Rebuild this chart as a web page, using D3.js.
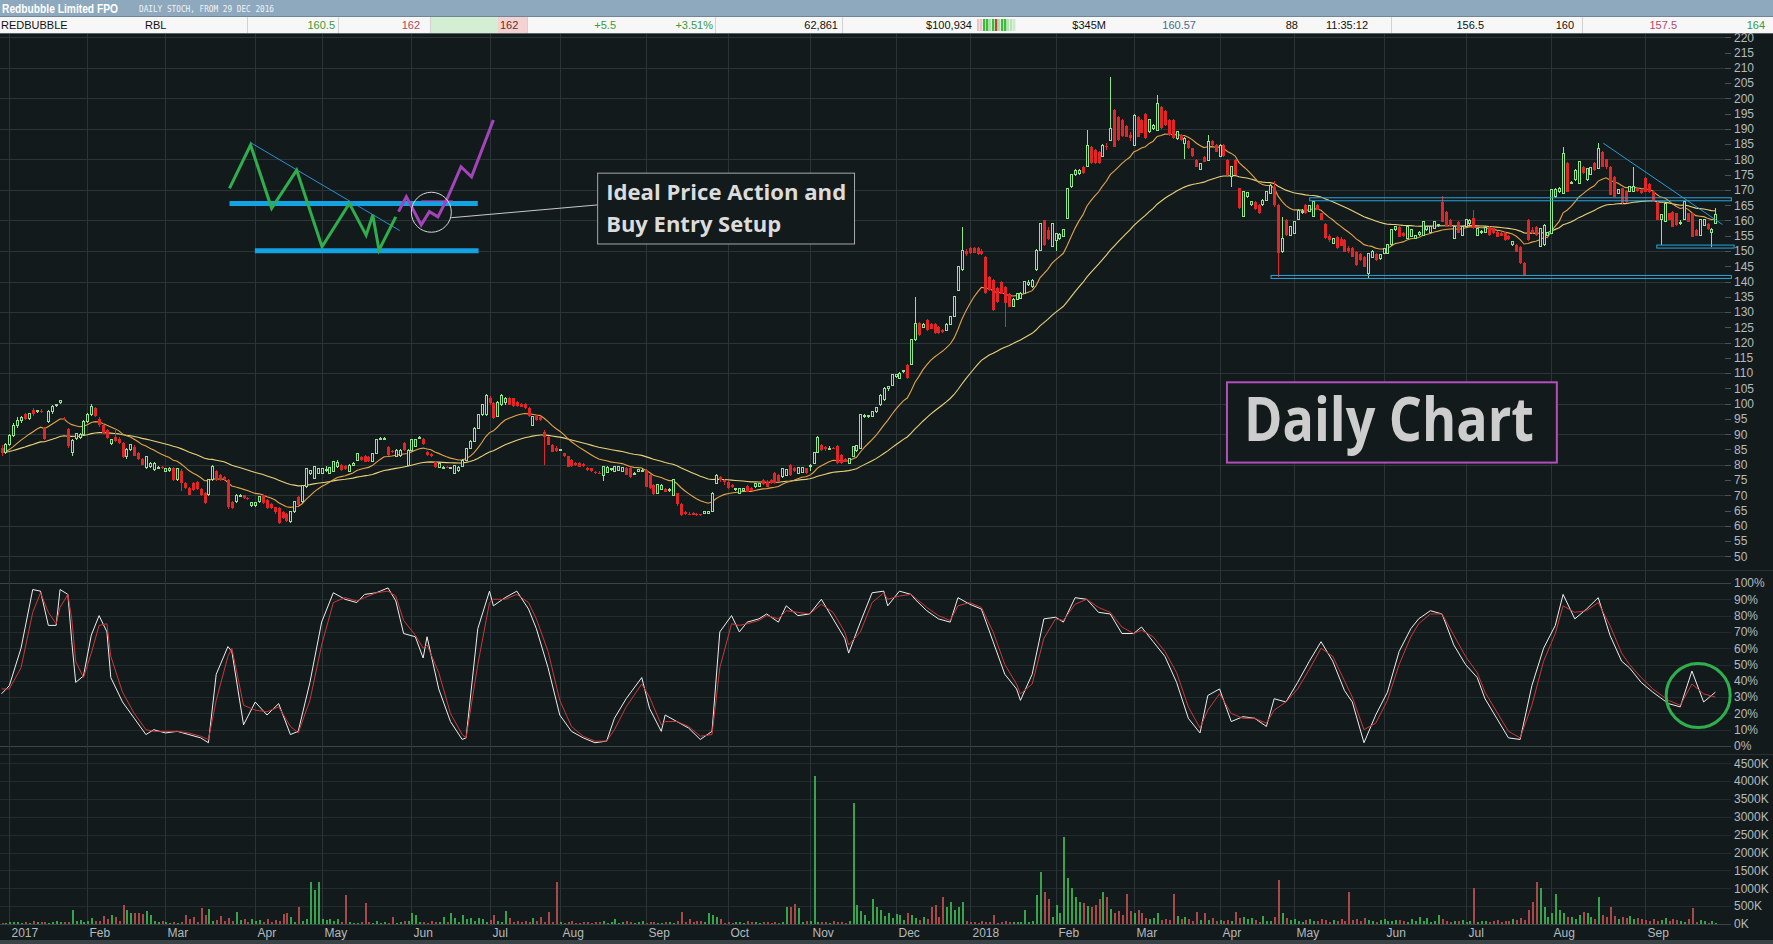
<!DOCTYPE html>
<html>
<head>
<meta charset="utf-8">
<script src="https://cdn.jsdelivr.net/npm/d3@7/dist/d3.min.js"></script>
<style>
body{margin:0;background:#131a1b;overflow:hidden}
text{font-family:"Liberation Sans",Arial,sans-serif}
</style>
</head>
<body>
<script>
// sessions on the time axis: 2 lead-in days (29-30 Dec 2016) then one entry per month
let leadSessions = 2
let monthLabels = ["2017","Feb","Mar","Apr","May","Jun","Jul","Aug","Sep","Oct","Nov","Dec",
                   "2018","Feb","Mar","Apr","May","Jun","Jul","Aug","Sep"]
let monthSessions = [20,20,23,17,23,20,18,22,21,21,22,19,22,20,22,19,23,21,22,24,19]

// daily candles [open, high, low, close]
let candles = [
[85.5,86.5,83,84],[84,87,83.5,86.5],[86.5,90,86,89.5],[89.5,93.5,89,92.8],[92.8,95.5,92,94.5],[94.5,96,93.5,95.5],[96.5,97,94.5,95],[95,97,94.5,96.8],[97.8,98.5,96,96.5],[97.5,98,97,97.6],
[97.6,98.2,96.8,97.2],[92,92.5,88,88.5],[94,97.8,93.5,97.4],[97.4,99.5,96.5,99],[99.5,100,99,99.7],[100.3,101.2,99.8,101],[95,95.5,94.5,94.9],[91.6,92,85.5,86],[84,88.5,83,88],[88.6,90.5,88,90.3],
[89,90.5,88.5,90],[90,94.5,89.5,94.1],[94,97,93.5,96.5],[96.5,100,96,99],[98.5,99,95.5,96],[94.9,95.5,92.5,93],[93,93.5,90,90.3],[91.4,91.8,88.3,88.6],[86.8,88.5,86.5,88.3],[89.2,92,87.5,87.8],
[88.5,89,86.8,87],[87,87.5,82.3,82.6],[82.6,85.5,82,85],[85,86.8,84.5,86.5],[85.9,86.3,82.8,83],[84,84.3,81.5,82],[82,82.3,79.8,80],[79,82.8,78.5,82.6],[79.5,81,79,80.5],[78.3,80.8,78,80.5],
[79.1,79.5,78.8,79.1],[79.1,79.5,78.5,79],[77.8,79,77.5,78.8],[78,79.2,77.5,78.8],[78.8,79.2,74.8,75],[75,79,74.8,78.8],[78,78.5,71.5,74],[74,74.5,72,72.3],[72.3,72.8,70,70.1],[73.9,74.2,71.5,71.7],
[74.4,74.8,71.8,72],[72,72.3,69.8,70],[70.6,71,67.2,67.4],[70.1,75.2,69.8,75],[75,80,74.8,79.4],[78,78.3,74.8,75],[76.6,77,74.8,75],[76,76.3,74.8,75.2],[75,75.3,65.5,66],[67.9,68.2,65.5,65.7],
[68,70.5,67.5,70],[70,70.3,69.6,70],[70,70.2,68.8,69],[69,69.3,68.5,68.8],[66.5,67.8,66.3,67.6],[66.8,67.8,66.3,67.5],[67.9,69.8,67.5,69.5],[70,70.3,67.2,67.4],[68.4,68.7,65.5,65.7],[67,67.3,65.5,65.8],
[66,66.3,64,64.5],[65.7,66,60.6,61],[64.6,64.8,62.2,62.4],[64,64.2,61.2,61.4],[61.4,64.8,60.8,64.6],[64.6,68,64.3,67.9],[69.5,69.8,66.6,66.8],[67.9,73.5,67.6,73.3],[72.8,79,72.5,78.8],[77,78.2,76.6,78],
[75.5,79.6,75.2,79.4],[77.2,79,77,78.8],[77.2,79,76.8,78.8],[78,79.5,77.5,78.5],[77,79.2,76.8,79],[77.7,81.2,77.5,81],[79.5,81.5,79,80.8],[79.9,80.2,78,78.3],[79.5,79.8,78.2,78.5],[77.7,80.2,77.5,79.9],
[79.9,81,79.5,80.5],[81.5,83.9,81.2,83.7],[82.6,82.9,81.3,81.5],[82.9,83.2,80.8,81],[82.5,82.8,81,81.2],[81.2,84,81,83.7],[83.7,88.5,83.5,88.1],[88.6,89.2,88,88.6],[88.6,89,88.2,88.6],[85.9,86.2,83,83.2],
[84.5,84.8,84,84.3],[82.6,85,82.4,84.8],[83,85,82.5,84.6],[87,87.3,84.6,84.8],[79.9,85,79.6,84.8],[84.8,88.3,84.6,88.1],[86,88.5,85.8,88.3],[89,89.5,88.6,89],[88.5,88.8,86.5,86.8],[84.3,84.6,83,83.2],
[83.5,84,82.5,83],[81,81.3,79,79.1],[79.1,81,78.8,80.5],[79.1,79.5,78.8,79.1],[79.2,79.5,78.8,79],[79,79.3,78.6,79],[77.2,80,77,79.9],[78,79.5,77.5,79.2],[79.5,81.8,79.2,81.5],[81.5,85.6,81.2,85.4],
[85.4,88,85,87.6],[87.6,92.2,87.4,91.9],[92,96.5,91.8,96.3],[96.3,99.9,96,99.6],[96.5,103.3,96,102.8],[102,102.5,99.5,100.1],[100.1,100.5,95,95.2],[95.7,100.8,95.5,100.5],[99.6,103,99.3,102.8],[100.5,102.2,99.5,101.8],
[101.8,102.2,99.4,99.6],[101.8,102,99,99.2],[100.5,100.8,99,99.3],[100,100.3,98.8,99],[100,100.3,98.3,98.5],[98.5,98.8,95.5,95.8],[93,95.9,92.8,95.7],[96,96.3,94.4,94.6],[95.5,95.8,94.4,94.6],[90.8,91.3,80,89.2],
[89.2,89.5,86.3,86.5],[86.5,86.8,84.1,84.3],[85.5,86,84.3,84.5],[84.8,85.2,84.5,84.9],[83.7,84,82.5,82.8],[82.8,83,79.2,79.4],[81.5,81.8,79.2,79.6],[80.5,80.8,79.5,80],[80.5,80.8,79.2,79.4],[80.2,80.5,79.2,79.5],
[78.8,79.2,78,78.3],[78.8,79,77.5,77.8],[77.5,78,77,77.2],[77.4,78,77,77.3],[76.6,79.5,74.8,79.4],[77.5,79.6,77.3,79.2],[78.5,79,78,78.6],[77.7,79.5,77.5,79.4],[78,79.6,77.8,79.3],[77.8,79.2,77.5,79],
[79,79.3,76.5,76.6],[79,79.2,75.8,76],[77,77.5,76.5,77.2],[77.7,78.6,77.5,78.5],[78,78.5,77.5,78.2],[78.3,78.5,72.6,72.8],[76.6,76.8,72,72.3],[73.5,73.8,70,70.3],[70.6,73.5,70.4,73.4],[72,73.6,71.8,73.2],
[72,72.3,71,71.2],[71.5,72.3,71.2,71.8],[70,75.2,69.8,75],[70.6,70.8,66.5,67],[67,67.3,63.3,63.5],[64.6,64.8,63.5,64],[64,64.5,63.5,63.8],[64.2,64.5,63.5,63.6],[64,64.2,63.3,63.5],[63.8,64,63.3,63.5],
[64,64.7,63.8,64.6],[64,64.8,63.8,64.6],[64.6,71,64.4,70.5],[73.9,76.9,73.7,76.6],[76,76.3,74.5,75],[75,75.3,73.5,74.2],[74.5,74.8,72.1,72.3],[73.5,73.8,72.3,72.6],[72,72.4,71.5,72.1],[70.6,72.5,70.4,72.3],
[71.5,72.5,71,72.2],[73,73.3,71,71.2],[72.5,72.8,71.3,71.5],[72.8,73.9,72.5,73.7],[73,74,72.8,73.8],[75,75.3,73.5,73.8],[74.5,75,72.6,72.8],[75,75.2,73.6,74],[77.2,77.5,73.8,74],[76.5,76.8,74.5,74.8],
[76,79,75.8,78.8],[76.5,78.5,76.2,78.3],[79.9,80.2,76.4,76.6],[79,79.3,77.5,77.8],[77,79.2,76.8,79],[77.5,79.3,77.3,79],[78.8,79,77,77.2],[79.5,80.2,78,79.9],[80.5,84.2,80.3,84],[84,89.3,83.8,88.9],
[86.5,86.8,84.6,84.8],[85.8,86,84.5,85],[85.2,86,85,85.4],[85.4,85.8,85,85.3],[86,86.3,80.3,80.5],[83.2,83.5,80.3,80.5],[82,82.3,80.8,81],[80.5,82.2,80.3,82],[82.6,86.2,82.4,86],[84.5,86.5,84.2,86.2],
[85.4,96.5,85.2,96.3],[95.7,96.5,95.3,96],[95.7,96.2,95.3,96],[95.7,97.6,95.5,97.4],[97.4,99,97,98.8],[99.6,103,99.3,102.8],[101.2,105.3,101,105],[105,105.8,104.3,105.5],[106.1,109.6,105.8,109.4],[109,109.8,108.5,109.5],
[108.3,110.3,108,110],[110.5,111,110,110.8],[112.7,113,108,108.3],[112.7,121.2,112.5,120.9],[120.9,135,120.5,126.3],[126.3,126.6,122.3,122.5],[125,126.5,124.8,126],[127.4,127.7,123.9,124.1],[126,126.3,124.3,124.5],[126,126.3,122.8,123],
[125.2,125.5,122.8,123],[124,124.5,123,123.5],[124,126.3,123.8,126],[126,128.8,125.8,128.5],[128.5,135.3,128.3,135],[137.2,145.2,137,144.9],[143.8,158,143.5,150.3],[150,150.5,148.5,149],[150.9,151.2,149,149.2],[151,151.3,149.2,149.5],
[151,151.3,148.8,149],[150,150.5,148.8,149],[148.1,148.4,135.9,136.1],[141.5,141.8,137,137.2],[140.5,140.8,130.5,130.7],[138,138.3,133,133.3],[140,140.3,135.8,136],[138.3,138.6,125.2,132.9],[136,136.3,131.6,131.8],[131.8,134.5,131.5,134.2],
[134,136.4,133.8,136.1],[134.5,136.5,134.2,136.2],[136.1,140.3,135.9,140],[139,140.5,138.5,139.8],[138.3,140.8,138,140.5],[143.8,150.6,143.6,150.3],[150.3,159.3,150,159],[160,160.3,151.8,152],[157,158,153.5,154],[151.4,159.3,151.2,159],
[153.6,156,150,155.8],[154,156,153.5,155.5],[154.7,157.2,154.5,156.9],[160.7,170.8,160.5,170.5],[171,175,170.5,174.9],[174.9,176.8,174.6,176.5],[175.5,177,175,176.5],[177.6,177.8,175.3,175.5],[177.6,189.6,177.4,184.7],[184.2,184.5,178.5,178.7],
[183,183.3,178.5,178.8],[182.5,182.8,178.5,178.7],[180.9,185,180.7,184.7],[184.5,185.5,183,184],[186.3,207,186,190.2],[196.2,196.5,184,184.2],[194,194.3,186,186.3],[193,193.3,187.4,187.6],[191,191.3,187.2,187.4],[188,189,186,187],
[184.7,194.8,184.5,194.5],[194,194.3,187.2,187.4],[193,193.3,188.5,188.7],[195,195.3,186.7,186.9],[189,193.3,188.8,193],[190,191.5,189.5,191],[189.6,201,189.4,198.3],[197.3,197.6,190,190.2],[196,196.3,191,191.3],[193,193.3,187.8,188],
[192.9,193.2,186.7,186.9],[187,189.2,186.5,189],[188,188.3,186,186.2],[185.3,187.2,180,186.9],[186,186.3,183.4,183.6],[183.6,183.8,180.8,181],[179.8,180,177.4,177.6],[176.7,178.9,176.5,178.7],[180.9,181.2,179,179.2],[179.8,188,179.6,185.8],
[186,186.3,184.5,184.7],[184.7,185,182.3,182.5],[181,184.9,180.8,184.7],[184.7,185,180.8,181],[179.8,180,174.7,174.9],[174.3,177.8,171,177.6],[179.8,180,174.8,175],[170.5,170.8,163.8,164],[161.3,169.6,161,169.4],[167.8,169.3,167.5,169.1],
[165.1,166.4,164.8,166.2],[166.2,166.5,163.5,163.8],[165,165.3,162.1,162.3],[165.1,166.9,164.8,166.7],[166.7,169.6,166.5,169.4],[168.9,171.8,168.7,171.6],[171,173,164.5,165],[165,165.3,141.6,149.2],[149.8,161,149.5,154.2],[160.2,160.5,155,155.2],
[155,158.2,154.8,158],[155.8,159.8,155.5,159.6],[160.2,163.6,160,163.4],[162.5,163.6,162,163],[165,165.3,162.1,162.3],[163,165.2,162.8,165],[161.3,166.4,161,166.2],[165,165.3,163.3,163.5],[162.3,162.6,160,160.2],[159,159.3,154,154.2],
[155,155.5,153,153.5],[152.5,154.4,152.3,154.2],[154.7,155,150.7,150.9],[154,154.5,151.5,151.8],[153.6,153.9,149.6,149.8],[151,151.5,149.5,150],[150.9,151.2,147.9,148.1],[149.8,150,145.2,145.4],[149,149.3,146.8,147],[148.1,148.4,144.7,144.9],
[142.7,149.4,141,149.2],[148,150.2,147.8,150],[149,149.3,146.8,147],[147.5,149,147.2,148.8],[149.2,151.1,149,150.9],[149.2,152.2,149,152],[152,157.1,151.8,156.9],[156.9,158.2,156.7,158],[158,158.3,154.5,154.7],[156,156.3,154.7,155],
[154.2,158.2,154,158],[154.7,157.1,154.5,156.9],[154.2,155.4,154,155.2],[155.5,156.5,155,156],[155.2,159.8,155,159.6],[157,158.2,156.5,158],[156,158.2,155.8,158],[157.4,159.8,157.2,159.6],[158.5,159,158,158.6],[166.2,168,159.4,159.6],
[162.9,163.2,157.8,158],[160,160.5,158,158.3],[154.2,158.2,154,158],[159.6,159.9,155.8,156],[155.2,158.2,155,158],[158,160.4,157.8,160.2],[159,160.5,158.5,160],[160.7,163.4,157.2,157.4],[155.2,157.6,155,157.4],[156,157,155.5,156.5],
[156,158,155.8,157.8],[158,158.2,155,155.2],[157.5,157.8,155.5,155.8],[156.3,156.6,154.5,154.7],[156,156.3,154.8,155],[155.8,156.1,153.4,153.6],[155,155.3,153.5,153.8],[152,153.2,151.8,153],[152,152.3,149.6,149.8],[151.4,151.7,145.8,146],
[146,146.3,142,142.2],[160.2,160.5,153.4,153.6],[157,158,155.5,156],[158,158.3,155,155.2],[151.4,157.6,151.2,157.4],[152,158.7,151.8,158.5],[155.2,156.2,155,156],[155.8,170.2,155.5,170],[167.8,170.5,167.5,170.2],[169.5,171,169,170.5],
[168.9,184,168.7,182],[178.7,179,169.2,169.4],[172.3,172.8,172,172.5],[173.3,176.7,173,176.5],[172,179.4,171.8,179.2],[177.6,177.9,175.3,175.5],[173.3,177.2,173,177],[175,177.5,174.8,177.3],[178.7,179,176.3,176.5],[177,185.3,176.8,183.6],
[182.5,182.8,177.4,177.6],[180,180.3,177,177.5],[177.6,177.9,168.2,168.4],[174.3,174.6,167.6,167.8],[169,170.2,168.8,170],[170.5,170.8,165.4,165.6],[169.6,169.9,165.8,166],[169.4,171.3,169.2,171.1],[169.5,177.6,169.3,171],[170.5,170.8,169.3,169.5],
[170,170.3,168.7,168.9],[173.8,174.1,169.2,169.4],[172,172.3,169,169.2],[169.4,169.7,166,166.2],[166.2,166.5,160,160.2],[160.2,162,152,161.8],[159.6,165.8,159.4,165.6],[162.3,162.6,160,160.2],[162.9,163.2,157.8,158],[162.3,162.6,158.3,158.5],
[159,160,158.5,159.5],[160.2,166.4,160,166.2],[162.3,162.6,159.4,159.6],[162.3,162.6,154.5,154.7],[157,157.3,154.8,155],[155.2,160.4,155,160.2],[158.5,160.4,158.3,160.2],[159,159.3,157,157.2],[156,157.5,151.4,157],[159,164,158.8,161.8]
]

// daily volume, thousands of shares
let volumes = [
40,30,50,45,60,40,55,35,70,60,45,50,40,60,80,55,60,50,390,70,100,60,90,160,80,80,220,140,250,200,
90,530,390,300,320,310,280,370,250,90,60,70,50,40,60,40,50,250,130,200,60,440,250,410,80,110,220,90,160,80,
330,110,140,60,150,80,110,60,150,60,110,70,280,300,190,60,465,80,130,1170,950,1170,130,100,130,70,130,60,800,60,
40,30,60,595,50,40,70,30,60,40,205,40,60,80,90,316,250,60,65,40,80,60,60,205,50,298,160,60,250,130,
160,80,160,130,60,110,250,80,60,363,160,60,90,60,90,60,160,70,205,60,344,60,1170,60,40,50,70,40,30,60,
50,40,60,50,70,40,60,130,40,50,90,50,40,60,70,40,50,60,30,40,60,50,40,70,344,60,130,60,90,80,
60,316,250,205,150,40,50,40,60,50,40,70,60,50,40,60,50,40,60,40,60,465,465,560,437,60,80,90,4150,60,
50,60,40,70,50,60,40,90,3390,530,370,250,80,700,480,390,220,300,180,280,250,110,300,250,160,110,200,150,484,530,
200,750,484,620,390,484,620,80,60,50,40,70,60,50,250,40,60,70,50,50,60,60,390,60,80,800,1460,900,700,200,
530,300,2440,1300,1000,760,620,580,500,480,530,700,900,750,420,300,350,250,850,370,300,390,300,160,140,160,300,100,150,120,
850,220,130,200,150,80,344,100,298,100,160,90,120,70,100,80,344,160,200,130,170,100,60,223,80,90,200,1240,300,160,
100,130,90,60,120,150,70,90,130,100,60,110,80,150,90,900,100,130,90,160,120,80,60,100,130,90,70,110,110,90,
60,130,80,205,70,160,60,90,250,130,80,60,90,70,110,60,80,1000,60,90,70,50,80,110,60,90,70,130,100,160,
120,390,620,1170,1000,484,200,300,850,390,300,200,205,150,251,344,298,200,150,750,251,200,484,223,130,200,160,223,130,180,
150,120,90,150,70,110,160,80,130,100,70,60,130,437,60,112,70,40,90,40
]

// slow stochastic read at these sessions: %K (white) and %D (red)
let stochDays = [0,2,5,8,10,12,14,15,17,18,19,21,23,25,27,28,31,34,37,39,42,45,48,51,53,55,58,59,62,65,
68,71,74,76,79,82,85,88,91,93,96,99,101,103,106,108,109,112,115,118,119,122,125,126,129,132,135,137,140,143,
146,149,152,155,157,160,164,166,169,170,173,176,179,182,184,187,189,191,194,196,199,201,204,207,210,213,216,217,220,223,
226,227,230,233,234,237,240,243,245,248,251,254,257,260,261,264,267,270,272,275,278,281,284,287,290,292,295,298,301,304,
307,309,312,315,318,321,324,326,329,332,335,338,341,344,346,349,352,355,358,361,363,366,369,372,375,378,380,383,386,389,
392,395,398,400,403,406,409,412,415,417,420,423,427,430,433,436,439]
let stochK = [32,37,60,96,95,74,74,96,93,64,39,43,68,80,70,42,27,17,7,10,8,9,7,5,2,44,61,58,13,27,
19,26,7,9,39,76,94,90,88,93,94,97,89,69,67,54,67,35,15,4,5,72,95,86,91,95,84,72,48,19,
9,5,2,3,17,29,42,23,9,19,15,11,4,9,70,80,70,76,78,81,76,86,80,81,90,78,66,57,76,94,
95,86,95,93,90,83,78,76,91,87,84,64,44,35,28,44,78,79,76,91,90,82,81,69,69,73,64,55,39,17,
8,31,35,15,18,17,12,29,27,39,52,64,52,34,27,2,19,33,58,72,78,83,81,62,50,42,29,17,5,4,
37,60,74,93,78,84,91,68,52,48,39,33,26,24,46,27,33]
let stochD = [35,35,48,82,94,82,75,85,93,78,52,42,57,74,75,55,33,20,10,9,9,9,8,6,4,28,55,60,25,22,
21,24,12,8,28,62,88,91,89,91,94,95,92,77,68,60,62,45,20,7,5,50,88,90,90,93,88,78,58,28,
12,6,3,3,10,24,38,30,13,15,15,12,6,7,48,75,74,75,77,80,78,83,82,81,87,82,70,62,70,88,
94,90,92,93,91,85,80,77,86,88,85,70,50,38,32,38,66,78,77,87,90,85,82,73,69,71,67,58,45,24,
11,22,32,20,17,17,14,22,27,35,47,60,55,40,30,10,14,28,50,67,75,81,81,68,55,45,33,21,9,5,
25,52,69,86,82,83,88,74,57,50,42,35,28,25,38,32,30]

let priceTicks = d3.range(50, 221, 5)
let priceGrid = d3.range(50, 221, 10)
let stochTicks = d3.range(0, 101, 10)
let volumeTicks = d3.range(0, 4501, 500)

// hand drawn annotations, points are [session, price]
let setupGreen = [[58.4,170.5],[63.8,184.7],[69.2,164],[75.6,176.5],[82.1,151.4],[89.1,165.6],[93.4,155.2],[95.1,161.8],[96.7,150.3],[101,161.2]]
let setupPurple = [[101.7,162.9],[103.7,167.8],[107.5,158.5],[109.6,162.9],[111.8,161.2],[114.4,167.8],[117.7,177.6],[120.4,174.3],[126,192.9]]
let setupLevels = [[58.4,122,165.6],[64.9,122.2,150.1]]
let setupTrend = [[63.8,185.5],[102,156.7]]
let setupRing = [110.1,162.7]
let calloutLine = [[115.2,160.9],[152.7,165.1]]
let calloutBox = [152.7,218.5,175.5,152.3]
let calloutText = ["Ideal Price Action and","Buy Entry Setup"]
let rangeBands = [[335.1,443.1,166.95],[325.2,443.1,141.5],[424,443.8,151.45]]
let rangeTrend = [[410.3,185.3],[440.8,158.7]]
let titleBox = [313.9,398.4,107,80.7]
let stochRing = [434.6,31]

// quote strip: text, x, anchor, colour
let quoteCells = [["REDBUBBLE",1,"start","#111"],["RBL",145,"start","#111"],["160.5",335,"end","#3a9a3a"],["162",420,"end","#b04a5a"],
  ["162",500,"start","#6a2a2a"],["+5.5",616,"end","#3a9a3a"],["+3.51%",713,"end","#3a9a3a"],["62,861",838,"end","#111"],
  ["$100,934",972,"end","#111"],["$345M",1106,"end","#111"],["160.57",1196,"end","#4a6c8c"],["88",1298,"end","#111"],
  ["11:35:12",1326,"start","#111"],["156.5",1484,"end","#111"],["160",1574,"end","#111"],["157.5",1677,"end","#b04a6a"],["164",1765,"end","#3a9a3a"]]
let quoteDividers = [247,338,430,527,715,842,1391,1582]
let tickColours = ["#e9c6c6","#e9c6c6","#3cbc3c","#3cbc3c","#a8e0a8","#3cbc3c","#cc3b3b","#a8e0a8","#3cbc3c","#3cbc3c","#b8e4b8","#b8e4b8","#cfe9cf"]

let width = 1773
let height = 944
let step = 3.904
let plotRight = 1731
let axisX = 1734
let bg = "#131a1b"
let gridColour = "#2b3537"
let labelColour = "#b3bbbf"
let upColour = "#8fe58b"
let downColour = "#e02626"

let x = d3.scaleLinear().domain([0,1]).range([1.5, 1.5+step]) // session -> px, linear so annotations can sit between days
let xc = i => Math.round(x(i)) + 0.5
let yPrice = d3.scaleLinear().domain([50,220]).range([556.3,37.3])
let yStoch = d3.scaleLinear().domain([0,100]).range([746,583])
let yVol = d3.scaleLinear().domain([0,4500]).range([924,763.2])

// first session of every month
let monthStarts = []
let acc = leadSessions
monthSessions.forEach((n,k)=>{ monthStarts.push({label:monthLabels[k], i:acc}); acc += n })

let canvas = d3.select("body").append("svg")
  .attr("width",width).attr("height",height).style("display","block")
canvas.append("rect").attr("width",width).attr("height",height).attr("fill",bg)

drawHeader()
drawGrid()
drawAxes()
drawAnnotations()
drawMovingAverages()
drawCandles()
drawStochastic()
drawVolume()
drawOverlays()

function drawHeader(){
  canvas.append("rect").attr("x",0).attr("y",0).attr("width",width).attr("height",16).attr("fill","#8ea9be")
  canvas.append("text").attr("x",2).attr("y",13).text("Redbubble Limited FPO")
    .attr("font-weight","bold").attr("font-size",12).attr("fill","#fff")
    .attr("textLength",116).attr("lengthAdjust","spacingAndGlyphs")
  canvas.append("text").attr("x",139).attr("y",12).text("DAILY STOCH, FROM 29 DEC 2016")
    .style("font-family","'DejaVu Sans Mono',monospace").attr("font-size",8.5).attr("fill","#eef3f7")
    .attr("textLength",135).attr("lengthAdjust","spacingAndGlyphs")
  canvas.append("rect").attr("x",0).attr("y",16).attr("width",width).attr("height",1).attr("fill","#6d8799")
  canvas.append("rect").attr("x",0).attr("y",17).attr("width",width).attr("height",16).attr("fill","#f7f7f7")
  canvas.append("rect").attr("x",430).attr("y",17).attr("width",68).attr("height",16).attr("fill","#d3eed3")
  canvas.append("rect").attr("x",498).attr("y",17).attr("width",29).attr("height",16).attr("fill","#f4d2d2")
  canvas.selectAll("line.qdiv").data(quoteDividers).enter().append("line")
    .attr("x1",d=>d+0.5).attr("x2",d=>d+0.5).attr("y1",17).attr("y2",33).attr("stroke","#d2d2d2")
  canvas.selectAll("rect.tick").data(tickColours).enter().append("rect")
    .attr("x",(d,i)=>977+i*3).attr("y",19).attr("width",2.4).attr("height",12).attr("fill",d=>d)
  canvas.selectAll("text.q").data(quoteCells).enter().append("text")
    .attr("x",d=>d[1]).attr("y",29).attr("text-anchor",d=>d[2]).attr("fill",d=>d[3])
    .attr("font-size",11).text(d=>d[0])
  canvas.append("rect").attr("x",0).attr("y",33).attr("width",width).attr("height",1).attr("fill","#5b6466")
}

function drawGrid(){
  let grid = canvas.append("g").attr("shape-rendering","crispEdges")
  grid.selectAll("line.pg").data(priceGrid).enter().append("line")
    .attr("x1",0).attr("x2",plotRight).attr("y1",d=>Math.round(yPrice(d))+0.5).attr("y2",d=>Math.round(yPrice(d))+0.5)
    .attr("stroke",gridColour)
  grid.selectAll("line.sg").data(stochTicks).enter().append("line")
    .attr("x1",0).attr("x2",plotRight).attr("y1",d=>Math.round(yStoch(d))+0.5).attr("y2",d=>Math.round(yStoch(d))+0.5)
    .attr("stroke",d=> d==0||d==100 ? "#3a4547" : "#222c2e")
  grid.selectAll("line.vg").data(volumeTicks).enter().append("line")
    .attr("x1",0).attr("x2",plotRight).attr("y1",d=>Math.round(yVol(d))+0.5).attr("y2",d=>Math.round(yVol(d))+0.5)
    .attr("stroke",d=> d==0 ? "#3a4547" : "#222c2e")
  grid.selectAll("line.mg").data(monthStarts).enter().append("line")
    .attr("x1",d=>xc(d.i)).attr("x2",d=>xc(d.i)).attr("y1",34).attr("y2",926)
    .attr("stroke",gridColour)
  // panel separators
  grid.append("rect").attr("x",0).attr("y",570).attr("width",width).attr("height",1).attr("fill","#283133")
  grid.append("rect").attr("x",0).attr("y",754).attr("width",width).attr("height",1).attr("fill","#283133")
  canvas.append("rect").attr("x",0).attr("y",940).attr("width",width).attr("height",4).attr("fill","#3a4345")
}

function drawAxes(){
  let ax = canvas.append("g").attr("font-size",12).attr("fill",labelColour)
  ax.selectAll("line.pt").data(priceTicks).enter().append("line")
    .attr("x1",plotRight-6).attr("x2",plotRight).attr("y1",d=>Math.round(yPrice(d))+0.5).attr("y2",d=>Math.round(yPrice(d))+0.5)
    .attr("stroke","#4a5456").attr("shape-rendering","crispEdges")
  ax.selectAll("text.pl").data(priceTicks).enter().append("text")
    .attr("x",axisX).attr("y",d=>yPrice(d)).attr("dy","0.36em").text(d=>d)
  ax.selectAll("text.sl").data(stochTicks).enter().append("text")
    .attr("x",axisX).attr("y",d=>yStoch(d)).attr("dy","0.36em").text(d=>d+"%")
  ax.selectAll("text.vl").data(volumeTicks).enter().append("text")
    .attr("x",axisX).attr("y",d=>yVol(d)).attr("dy","0.36em").text(d=>d+"K")
  ax.selectAll("text.ml").data(monthStarts).enter().append("text")
    .attr("x",d=>xc(d.i)+2).attr("y",937).text(d=>d.label)
}

function drawAnnotations(){
  let line = d3.line().x(d=>x(d[0])).y(d=>yPrice(d[1]))
  let g = canvas.append("g").attr("fill","none")
  g.selectAll("line.lvl").data(setupLevels).enter().append("line")
    .attr("x1",d=>x(d[0])).attr("x2",d=>x(d[1])).attr("y1",d=>yPrice(d[2])).attr("y2",d=>yPrice(d[2]))
    .attr("stroke","#13a2e2").attr("stroke-width",5)
  g.append("path").attr("d",line(setupTrend)).attr("stroke","#2a8fd0").attr("stroke-width",1)
  g.append("path").attr("d",line(setupGreen)).attr("stroke","#2fae4e").attr("stroke-width",3).attr("stroke-linejoin","miter")
  g.append("path").attr("d",line(setupPurple)).attr("stroke","#a444bb").attr("stroke-width",3)
  g.append("line").attr("x1",x(107.5)).attr("x2",x(115.6)).attr("y1",yPrice(166.4)).attr("y2",yPrice(166.4))
    .attr("stroke","#a444bb").attr("stroke-width",1.2)
  g.append("circle").attr("cx",x(setupRing[0])).attr("cy",yPrice(setupRing[1])).attr("r",20)
    .attr("stroke","#d4d4d4").attr("stroke-width",1)
  g.append("path").attr("d",line(calloutLine)).attr("stroke","#c8c8c8").attr("stroke-width",1)
  let bx0 = x(calloutBox[0]), bx1 = x(calloutBox[1]), by0 = yPrice(calloutBox[2]), by1 = yPrice(calloutBox[3])
  g.append("rect").attr("x",bx0).attr("y",by0).attr("width",bx1-bx0).attr("height",by1-by0)
    .attr("fill",bg).attr("stroke","#a9a9a9").attr("stroke-width",1)
  canvas.selectAll("text.callout").data(calloutText).enter().append("text")
    .attr("x",bx0+8.5).attr("y",(d,i)=>by0+27+i*31.5)
    .style("font-family","'Open Sans',sans-serif").attr("font-weight","bold").attr("font-size",22)
    .attr("fill","#dcdcdc").attr("textLength",(d,i)=> i==0 ? 240 : 175).attr("lengthAdjust","spacingAndGlyphs")
    .text(d=>d)
}

// exponential average of the closes, seeded on the first close
function ema(period){
  let k = 2/(period+1), prev = candles[0][3]
  return candles.map(d=> prev = prev + k*(d[3]-prev))
}

function drawMovingAverages(){
  let line = d3.line().x((d,i)=>x(i)).y(d=>yPrice(d))
  canvas.append("path").attr("d",line(ema(50))).attr("fill","none").attr("stroke","#e9d27a").attr("stroke-width",1.1)
  canvas.append("path").attr("d",line(ema(15))).attr("fill","none").attr("stroke","#e0a54a").attr("stroke-width",1.1)
}

function drawCandles(){
  let g = canvas.append("g").attr("shape-rendering","crispEdges")
  let up = d => d[3] >= d[0]
  g.selectAll("line.wick").data(candles).enter().append("line")
    .attr("x1",(d,i)=>xc(i)).attr("x2",(d,i)=>xc(i))
    .attr("y1",d=>yPrice(d[1])).attr("y2",d=>yPrice(d[2]))
    .attr("stroke",d=> up(d) ? upColour : downColour)
  g.selectAll("rect.body").data(candles).enter().append("rect")
    .attr("x",(d,i)=> up(d) ? xc(i)-1 : xc(i)-1.5)
    .attr("width",d=> up(d) ? 2 : 3)
    .attr("y",d=> yPrice(Math.max(d[0],d[3])))
    .attr("height",d=> Math.max(1, Math.abs(yPrice(d[0])-yPrice(d[3]))))
    .attr("fill",d=> up(d) ? bg : downColour)
    .attr("stroke",d=> up(d) ? upColour : "none")
    .attr("stroke-width",1)
}

function drawStochastic(){
  let line = values => d3.line().x((d,j)=>x(stochDays[j])).y(d=>yStoch(d))(values)
  canvas.append("path").attr("d",line(stochK)).attr("fill","none").attr("stroke","#eeeeee").attr("stroke-width",1)
  canvas.append("path").attr("d",line(stochD)).attr("fill","none").attr("stroke","#c9383a").attr("stroke-width",1)
}

function drawVolume(){
  canvas.append("g").attr("shape-rendering","crispEdges")
    .selectAll("rect").data(volumes).enter().append("rect")
    .attr("x",(d,i)=>xc(i)-1).attr("width",2.4)
    .attr("y",d=>yVol(d)).attr("height",d=>yVol(0)-yVol(d))
    .attr("fill",(d,i)=> candles[i][3] >= candles[i][0] ? "#38a34c" : "#a84a4a")
}

function drawOverlays(){
  let g = canvas.append("g").attr("fill","none")
  g.selectAll("rect.band").data(rangeBands).enter().append("rect")
    .attr("x",d=>x(d[0])).attr("width",d=>x(d[1])-x(d[0]))
    .attr("y",d=>yPrice(d[2])-1.5).attr("height",3)
    .attr("stroke","#29a6de").attr("stroke-width",1)
  g.append("path").attr("d",d3.line().x(d=>x(d[0])).y(d=>yPrice(d[1]))(rangeTrend))
    .attr("stroke","#2a9ad8").attr("stroke-width",1)
  let tx0 = x(titleBox[0]), tx1 = x(titleBox[1]), ty0 = yPrice(titleBox[2]), ty1 = yPrice(titleBox[3])
  g.append("rect").attr("x",tx0).attr("y",ty0).attr("width",tx1-tx0).attr("height",ty1-ty0)
    .attr("fill",bg).attr("stroke","#b24fba").attr("stroke-width",2)
  canvas.append("text").attr("x",tx0+17).attr("y",ty0+59).text("Daily Chart")
    .style("font-family","'Open Sans',sans-serif").attr("font-weight","bold").attr("font-size",60)
    .attr("fill","#cdcdcd").attr("textLength",290).attr("lengthAdjust","spacingAndGlyphs")
  g.append("circle").attr("cx",x(stochRing[0])).attr("cy",yStoch(stochRing[1])).attr("r",32)
    .attr("stroke","#2fae4e").attr("stroke-width",3)
}
</script>
</body>
</html>
